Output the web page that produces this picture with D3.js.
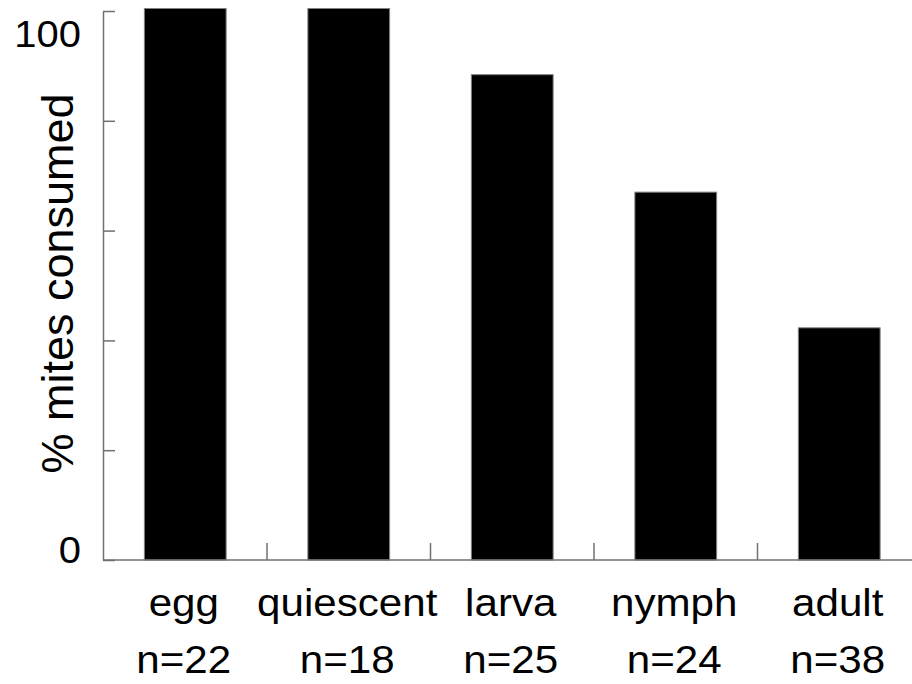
<!DOCTYPE html>
<html>
<head>
<meta charset="utf-8">
<script src="https://cdn.jsdelivr.net/npm/d3@7"></script>
<style>
  body { margin: 0; background: #fff; }
  svg { display: block; font-family: "Liberation Sans", Arial, sans-serif; }
</style>
</head>
<body>
<div id="chart"></div>
<script>
// Data
const categories = ["egg", "quiescent", "larva", "nymph", "adult"];
const sampleSizes = [22, 18, 25, 24, 38];
const consumed = [100, 100, 88, 66.7, 42.1];
const yTicks = [0, 20, 40, 60, 80, 100];
const yTickLabels = ["0", "", "", "", "", "100"];

const width = 912;
const height = 684;
const axisColor = "#707070";
const stretch = 1.08; // text in the original is a bit wide

const svg = d3.select("#chart")
    .append("svg")
    .attr("width", width)
    .attr("height", height);

// scales
const xScale = d3.scaleBand()
    .domain(categories)
    .range([103.5, 921])
    .paddingInner(0.5)
    .paddingOuter(0.25);

const xBounds = d3.scaleBand()
    .domain(categories)
    .range([103.5, 921]);

const yScale = d3.scaleLinear()
    .domain([0, 100])
    .range([560, 8.5]);

// tick marks sit a little off the bar scale in the original
const yTickScale = d3.scaleLinear()
    .domain([0, 100])
    .range([560, 11]);

// tick labels are placed separately (baselines)
const yLabelScale = d3.scaleLinear()
    .domain([0, 100])
    .range([563, 46.5]);

// bars
svg.append("g")
    .selectAll("rect")
    .data(categories)
    .join("rect")
    .attr("x", d => xScale(d))
    .attr("width", xScale.bandwidth())
    .attr("y", (d, i) => yScale(consumed[i]))
    .attr("height", (d, i) => yScale(0) - yScale(consumed[i]))
    .attr("fill", "#000")
    .attr("stroke", "#808080")
    .attr("stroke-width", 1);

// y axis: ticks pointing inward, no labels
const yAxis = svg.append("g")
    .attr("transform", `translate(103,0)`)
    .call(d3.axisRight(yTickScale).tickValues(yTicks).tickFormat("").tickSize(12).tickSizeOuter(0));
yAxis.select(".domain").attr("stroke", axisColor).attr("stroke-width", 1.5);
yAxis.selectAll(".tick line").attr("stroke", axisColor).attr("stroke-width", 1.5);

// x axis line + category boundary ticks pointing up
const inner = categories.slice(1).map(c => xBounds(c));
const xAxisG = svg.append("g");
xAxisG.append("line")
    .attr("x1", 103).attr("x2", width)
    .attr("y1", yScale(0)).attr("y2", yScale(0))
    .attr("stroke", axisColor).attr("stroke-width", 1.5);
xAxisG.selectAll("line.tick")
    .data(inner)
    .join("line")
    .attr("class", "tick")
    .attr("x1", d => d).attr("x2", d => d)
    .attr("y1", yScale(0)).attr("y2", yScale(0) - 17)
    .attr("stroke", axisColor).attr("stroke-width", 1.5);

// y tick labels
svg.append("g")
    .selectAll("text")
    .data(yTicks.filter((d, i) => yTickLabels[i] !== ""))
    .join("text")
    .attr("transform", d => `translate(81,${yLabelScale(d)}) scale(${stretch},1)`)
    .attr("text-anchor", "end")
    .attr("font-size", 37)
    .text(d => yTickLabels[yTicks.indexOf(d)]);

// category labels
const cx = d => xBounds(d) + xBounds.bandwidth() / 2 - 1.5;
svg.append("g")
    .selectAll("text")
    .data(categories)
    .join("text")
    .attr("transform", d => `translate(${cx(d)},616) scale(${stretch},1)`)
    .attr("text-anchor", "middle")
    .attr("font-size", 39)
    .text(d => d);

svg.append("g")
    .selectAll("text")
    .data(categories)
    .join("text")
    .attr("transform", d => `translate(${cx(d)},673) scale(${stretch},1)`)
    .attr("text-anchor", "middle")
    .attr("font-size", 39)
    .text((d, i) => "n=" + sampleSizes[i]);

// y axis title
svg.append("text")
    .attr("transform", "translate(73,283.5) rotate(-90)")
    .attr("text-anchor", "middle")
    .attr("font-size", 45)
    .text("% mites consumed");
</script>
</body>
</html>
